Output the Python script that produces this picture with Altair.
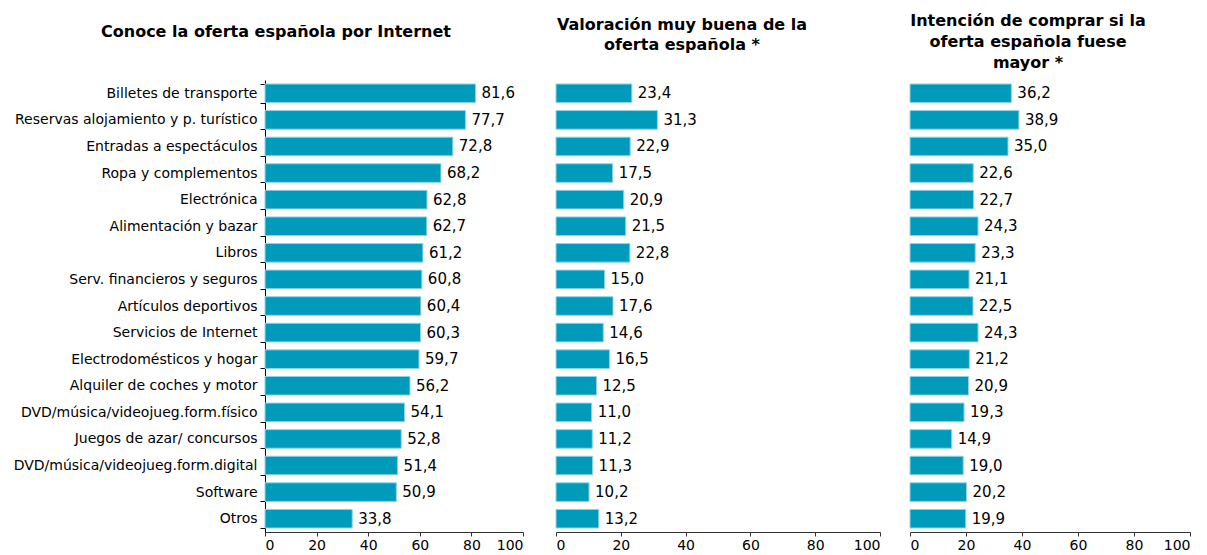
import altair as alt
import pandas as pd

categories = [
    "Billetes de transporte",
    "Reservas alojamiento y p. turístico",
    "Entradas a espectáculos",
    "Ropa y complementos",
    "Electrónica",
    "Alimentación y bazar",
    "Libros",
    "Serv. financieros y seguros",
    "Artículos deportivos",
    "Servicios de Internet",
    "Electrodomésticos y hogar",
    "Alquiler de coches y motor",
    "DVD/música/videojueg.form.físico",
    "Juegos de azar/ concursos",
    "DVD/música/videojueg.form.digital",
    "Software",
    "Otros",
]
conoce = [81.6, 77.7, 72.8, 68.2, 62.8, 62.7, 61.2, 60.8, 60.4, 60.3, 59.7, 56.2, 54.1, 52.8, 51.4, 50.9, 33.8]
valoracion = [23.4, 31.3, 22.9, 17.5, 20.9, 21.5, 22.8, 15.0, 17.6, 14.6, 16.5, 12.5, 11.0, 11.2, 11.3, 10.2, 13.2]
intencion = [36.2, 38.9, 35.0, 22.6, 22.7, 24.3, 23.3, 21.1, 22.5, 24.3, 21.2, 20.9, 19.3, 14.9, 19.0, 20.2, 19.9]
x_ticks = [0, 20, 40, 60, 80, 100]

titles = [
    ["Conoce la oferta española por Internet"],
    ["Valoración muy buena de la", "oferta española *"],
    ["Intención de comprar si la", "oferta española fuese", "mayor *"],
]

FONT = "DejaVu Sans"
BAR = "#009BBB"


def panel(values, title, width, offset, dx, line_h, show_y):
    df = pd.DataFrame({
        "cat": categories,
        "val": values,
        "lbl": [f"{v:.1f}".replace(".", ",") for v in values],
    })
    y_axis = alt.Axis(
        title=None, labelFontSize=14, labelFont=FONT, labelColor="#000000",
        domainColor="#000000", tickColor="#000000", tickSize=5, tickBand="extent",
        labelPadding=3, labelLimit=0,
    ) if show_y else None
    y = alt.Y("cat:N", sort=categories, axis=y_axis,
              scale=alt.Scale(paddingInner=0.3, paddingOuter=0.15))
    x = alt.X("val:Q", scale=alt.Scale(domain=[0, 100], nice=False),
              axis=alt.Axis(values=x_ticks, title=None, grid=False, labelFontSize=14,
                            labelFont=FONT, labelColor="#000000", domainColor="#333333",
                            tickColor="#333333", tickSize=4, labelPadding=2))
    base = alt.Chart(df)
    bars = base.mark_bar(color=BAR, stroke="#8fd3e3", strokeWidth=1).encode(x=x, y=y)
    text = base.mark_text(align="left", baseline="middle", dx=6, fontSize=15,
                          font=FONT, color="#000000").encode(
        x="val:Q", y=alt.Y("cat:N", sort=categories), text="lbl:N")
    return (bars + text).properties(
        width=width, height=452,
        title=alt.TitleParams(title, fontSize=16, font=FONT, fontWeight="bold",
                              color="#000000", anchor="middle", frame="group",
                              offset=offset, dx=dx, lineHeight=line_h),
    )


p1 = panel(conoce, titles[0], 258, 33, -118, 20, True)
p2 = panel(valoracion, titles[1], 324, 27, -36, 20, False)
p3 = panel(intencion, titles[2], 280, 9, -22, 21, False)

chart = alt.hconcat(alt.hconcat(p1, p2, spacing=31), p3, spacing=28).configure(
    font=FONT).configure_view(stroke=None)

chart.save("out.html", embed_options={"renderer": "svg", "actions": False})
